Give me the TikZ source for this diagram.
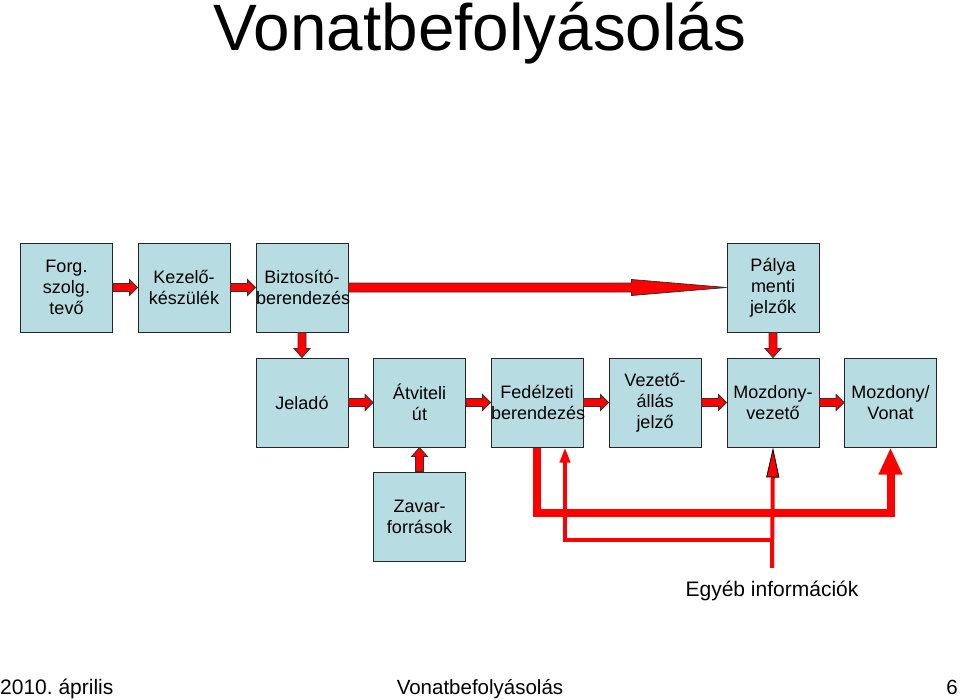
\documentclass[tikz,border=0pt]{standalone}
\usepackage{fontspec}
\setmainfont{Liberation Sans}
\usetikzlibrary{arrows.meta}
\usetikzlibrary{calc}
\definecolor{boxcolor}{HTML}{B7DDE3}
\definecolor{arrowcolor}{HTML}{FF0000}

\tikzset{
  unit/.style={draw=black!85, line width=1pt, fill=boxcolor, text width=92pt,
    minimum height=89pt, inner sep=0pt, align=center,
    font=\fontsize{18}{21}\selectfont},
  blockarrow/.style={fill=arrowcolor, draw=black!80, line width=0.8pt, line join=miter},
  infoline/.style={draw=arrowcolor, line join=miter},
}

% fat arrow: from, to, half shaft, half head, head length
\newcommand{\fatarrow}[5]{
  \coordinate (fa-b) at ($(#2)!#5!(#1)$);
  \filldraw[blockarrow] ($(#1)!#3!90:(#2)$) -- ($(fa-b)!#3!-90:(#1)$) --
    ($(fa-b)!#4!-90:(#1)$) -- (#2) -- ($(fa-b)!#4!90:(#1)$) --
    ($(fa-b)!#3!90:(#1)$) -- ($(#1)!#3!-90:(#2)$) -- cycle;
}

\begin{document}
\frenchspacing
\begin{tikzpicture}[x=1pt, y=-1pt]
  \useasboundingbox (0,0) rectangle (960,699);
  % Title and footer
  \node[font=\fontsize{65.6}{70}\selectfont, anchor=base, inner sep=0pt] (title) at (480,50) {Vonatbefolyásolás};
  \node[font=\fontsize{21}{24}\selectfont, anchor=base west, inner sep=0pt] (date) at (0,694) {2010. április};
  \node[font=\fontsize{20.5}{24}\selectfont, anchor=base, inner sep=0pt] (foot) at (480,694) {Vonatbefolyásolás};
  \node[font=\fontsize{20.5}{24}\selectfont, anchor=base east, inner sep=0pt] (page) at (958,694) {6};
  % Top row
  \node[unit] (forg) at (66.5,287.5) {Forg.\\szolg.\\tevő};
  \node[unit] (kez) at (184,287.5) {Kezelő-\\készülék};
  \node[unit] (bizt) at (302,287.5) {Biztosító-\\berendezés};
  \node[unit] (palya) at (773,287.5) {Pálya\\menti\\jelzők};
  % Second row
  \node[unit] (jel) at (302,402.5) {Jeladó};
  \node[unit] (atv) at (419.5,402.5) {Átviteli\\út};
  \node[unit] (fed) at (537,402.5) {Fedélzeti\\berendezés};
  \node[unit] (vez) at (655,402.5) {Vezető-\\állás\\jelző};
  \node[unit] (moz) at (773,402.5) {Mozdony-\\vezető};
  \node[unit] (vonat) at (890.5,402.5) {Mozdony/\\Vonat};
  \node[unit] (zavar) at (419.5,516.5) {Zavar-\\források};
  \node[font=\fontsize{21}{24}\selectfont, anchor=base, inner sep=0pt] (egyeb) at (772,596) {Egyéb információk};
  % Block arrows
  \foreach \a/\b in {forg/kez, kez/bizt, jel/atv, atv/fed, fed/vez, vez/moz, moz/vonat} {
    \fatarrow{\a.east}{\b.west}{4pt}{8pt}{8pt}
  }
  \foreach \a/\b in {bizt/jel, palya/moz} {
    \fatarrow{\a.south}{\b.north}{4pt}{8pt}{9pt}
  }
  \fatarrow{zavar.north}{atv.south}{4pt}{8pt}{9pt}
  \fatarrow{bizt.east}{palya.west}{4.5pt}{8pt}{95pt}
  % Other information
  \draw[infoline, line width=8pt, -{Triangle[length=27pt, width=22pt]}]
    (fed.south) -- ++(0,65) -| (vonat.south);
  \draw[infoline, line width=4pt, -{Triangle[length=30pt, width=13pt, line width=0.8pt, color=black, fill=arrowcolor]}]
    ([yshift=12.5pt]egyeb.north) -- (moz.south);
  \coordinate (split) at (moz.south |- 0,540);
  \draw[infoline, line width=4pt, -{Triangle[length=15pt, width=10pt]}]
    (split) -| ([xshift=28pt]fed.south);
\end{tikzpicture}
\end{document}
